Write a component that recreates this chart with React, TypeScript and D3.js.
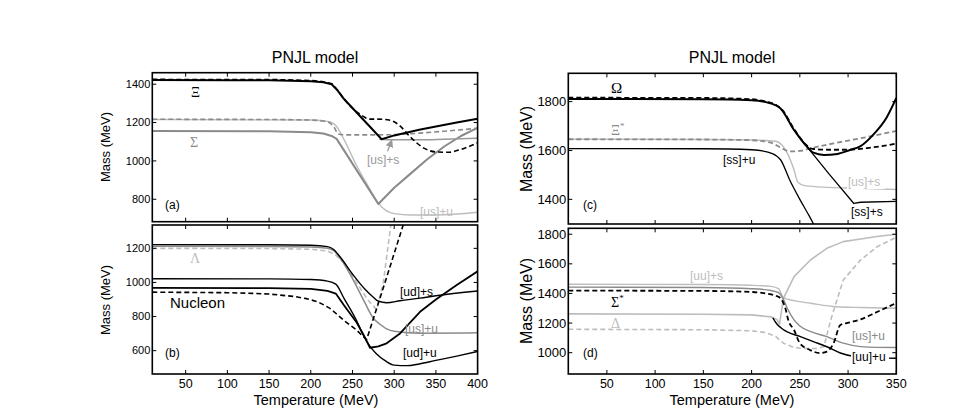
import React from "react";
import * as d3 from "d3";

// temperature (MeV), mass (MeV) pairs
// panel (a)
const xiSolid = [[10,1422],[100,1421],[150,1420],[200,1416],[215,1410],[225,1400],[232,1368],[239,1327],[260,1229],[285,1113],[300,1133],[330,1163],[350,1180],[375,1200],[400,1220]];
const xiDash = [[10,1425],[150,1424],[200,1419],[215,1412],[225,1402],[232,1370],[240,1322],[250,1275],[262,1235],[270,1218],[280,1218],[295,1212],[305,1190],[320,1122],[335,1068],[350,1047],[365,1045],[380,1060],[400,1095]];
const sigmaSolid = [[10,1156],[150,1155],[200,1150],[215,1143],[225,1130],[231,1115],[255,952],[281,775],[300,860],[320,935],[340,1010],[360,1075],[380,1130],[400,1172]];
const sigmaDash = [[10,1217],[150,1216],[200,1213],[215,1208],[222,1200],[228,1175],[233,1140],[240,1136],[280,1136],[300,1137],[331,1145],[360,1155],[400,1170]];
const usUa = [[10,1216],[200,1213],[222,1205],[230,1185],[240,1110],[255,975],[270,860],[281,780],[290,742],[300,725],[320,718],[350,718],[400,732]];
const usSa = [[282,1113],[300,1110],[330,1110],[360,1113],[400,1118]];

// panel (b)
const udS = [[10,1222],[150,1221],[200,1218],[220,1210],[227,1195],[235,1151],[251,1043],[265,960],[275,913],[281,890],[291,881],[307,893],[331,908],[350,922],[400,950]];
const usUb = [[10,1212],[150,1211],[200,1208],[220,1200],[228,1185],[237,1130],[251,1014],[265,880],[275,790],[283,755],[291,728],[300,714],[331,702],[400,705]];
const lambdaDash = [[10,1200],[150,1199],[200,1195],[220,1185],[230,1160],[240,1115],[255,1000],[268,900],[279,840],[287,1000],[296,1340]];
const udU = [[10,1022],[150,1021],[200,1017],[220,1008],[230,990],[240,905],[255,775],[263,690],[271,625],[278,585],[290,538],[300,515],[315,512],[330,522],[350,543],[375,568],[400,595]];
const nucleonSolid = [[10,968],[150,967],[200,962],[220,950],[230,935],[240,865],[255,765],[263,695],[271,617],[281,625],[291,643],[307,701],[331,828],[350,900],[375,985],[400,1065]];
const nucleonDash = [[10,943],[100,940],[130,936],[150,932],[180,918],[195,905],[208,887],[215,870],[223,848],[231,815],[239,780],[247,750],[255,721],[261,690],[267,665],[289,1000],[311,1340]];

// panel (c)
const omegaSolid = [[10,1811],[150,1810],[200,1806],[215,1798],[225,1785],[230,1772],[244,1684],[258,1613],[264,1591],[275,1582],[289,1586],[302,1602],[313,1618],[325,1660],[340,1735],[350,1815]];
const omegaDash = [[10,1816],[150,1815],[200,1810],[215,1800],[225,1787],[232,1765],[244,1688],[256,1625],[264,1606],[280,1603],[300,1603],[320,1610],[350,1628]];
const xiStarDash = [[10,1646],[150,1645],[200,1642],[220,1632],[230,1612],[240,1596],[250,1598],[261,1609],[285,1629],[313,1650],[350,1680]];
const usSc = [[10,1646],[150,1645],[200,1643],[225,1638],[232,1620],[237,1589],[244,1520],[248,1470],[255,1456],[280,1449],[313,1445],[350,1440]];
const ssU = [[10,1608],[150,1607],[200,1603],[215,1595],[225,1580],[230,1562],[240,1475],[250,1400],[260,1330],[268,1270]];
const ssS = [[244,1684],[258,1613],[280,1505],[306,1383],[313,1388],[350,1392]];

// panel (d)
const uuS = [[10,1462],[150,1460],[200,1455],[220,1448],[228,1432],[233,1372],[245,1350],[261,1334],[288,1310],[313,1305],[350,1300]];
const usUd = [[10,1443],[150,1440],[200,1432],[220,1420],[228,1405],[233,1360],[237,1300],[244,1221],[250,1180],[262,1140],[278,1108],[295,1064],[313,1041],[330,1036],[350,1035]];
const sigmaStarDash = [[10,1419],[150,1417],[200,1410],[215,1400],[225,1385],[230,1368],[235,1300],[238,1221],[244,1153],[250,1064],[260,1020],[271,997],[278,1007],[285,1064],[292,1187],[302,1205],[313,1225],[330,1275],[350,1335]];
const deltaSolid = [[10,1262],[150,1260],[200,1255],[220,1242],[226,1225],[229,1195],[233,1367],[244,1514],[261,1626],[278,1705],[295,1750],[313,1768],[330,1785],[350,1800]];
const uuU = [[222,1235],[226,1195],[232,1160],[237,1140],[250,1110],[264,1075],[278,1040],[292,998],[306,975],[320,968],[350,962]];
const deltaDash = [[10,1158],[150,1155],[200,1148],[215,1135],[225,1110],[233,1064],[244,1035],[254,1028],[268,1028],[275,1041],[282,1221],[295,1491],[313,1626],[330,1715],[350,1780]];

const xTicksLeft = [50, 100, 150, 200, 250, 300, 350, 400];
const xTicksRight = [50, 100, 150, 200, 250, 300, 350];
const yTicksA = [800, 1000, 1200, 1400];
const yTicksB = [600, 800, 1000, 1200];
const yTicksC = [1400, 1600, 1800];
const yTicksD = [1000, 1200, 1400, 1600, 1800];

const BLACK = "#000";
const GRAY = "#8a8a8a";
const LIGHT = "#bdbdbd";
const DASH = "5,3";

type Series = { data: number[][]; color: string; w: number; dash?: string; linear?: boolean };
type Label = { text: string; x: number; y: number; color?: string; size?: number; serif?: boolean; sup?: string; bg?: boolean };

type Panel = {
  id: string; x0: number; x1: number; y0: number; y1: number;
  xDomain: [number, number]; yDomain: [number, number];
  xTicks: number[]; yTicks: number[]; tickFont: number;
  series: Series[]; labels: Label[]; xLabels: boolean;
};

const panels: Panel[] = [
  {
    id: "a", x0: 152.3, x1: 477.6, y0: 72.7, y1: 221.7, xDomain: [10, 400], yDomain: [683, 1460],
    xTicks: xTicksLeft, yTicks: yTicksA, tickFont: 11, xLabels: false,
    series: [
      { data: usUa, color: LIGHT, w: 1.4 },
      { data: sigmaDash, color: GRAY, w: 1.6, dash: DASH },
      { data: sigmaSolid, color: GRAY, w: 2, linear: true },
      { data: usSa, color: "#999", w: 1.4 },
      { data: xiDash, color: BLACK, w: 1.6, dash: DASH },
      { data: xiSolid, color: BLACK, w: 2, linear: true },
    ],
    labels: [
      { text: "Ξ", x: 191, y: 97, serif: true, size: 14 },
      { text: "Σ", x: 190, y: 147, serif: true, size: 14, color: GRAY },
      { text: "(a)", x: 165, y: 209, size: 12 },
      { text: "[us]+s", x: 367, y: 164, size: 12, color: "#999" },
      { text: "[us]+u", x: 420, y: 216, size: 12, color: LIGHT },
    ],
  },
  {
    id: "b", x0: 152.3, x1: 477.6, y0: 225, y1: 374, xDomain: [10, 400], yDomain: [463, 1337],
    xTicks: xTicksLeft, yTicks: yTicksB, tickFont: 11, xLabels: true,
    series: [
      { data: lambdaDash, color: LIGHT, w: 1.6, dash: DASH, linear: true },
      { data: usUb, color: GRAY, w: 1.5 },
      { data: udS, color: BLACK, w: 1.4 },
      { data: udU, color: BLACK, w: 1.4 },
      { data: nucleonSolid, color: BLACK, w: 1.8, linear: true },
      { data: nucleonDash, color: BLACK, w: 1.6, dash: DASH, linear: true },
    ],
    labels: [
      { text: "Λ", x: 190, y: 263, serif: true, size: 14, color: LIGHT },
      { text: "Nucleon", x: 170, y: 308, size: 15 },
      { text: "(b)", x: 165, y: 357, size: 12 },
      { text: "[ud]+s", x: 400, y: 296, size: 12 },
      { text: "[us]+u", x: 405, y: 333, size: 12, color: GRAY },
      { text: "[ud]+u", x: 403, y: 357, size: 12 },
    ],
  },
  {
    id: "c", x0: 568.3, x1: 896.3, y0: 73.3, y1: 224, xDomain: [10, 350], yDomain: [1299, 1916],
    xTicks: xTicksRight, yTicks: yTicksC, tickFont: 13, xLabels: false,
    series: [
      { data: usSc, color: LIGHT, w: 1.4 },
      { data: xiStarDash, color: GRAY, w: 1.8, dash: DASH },
      { data: ssU, color: BLACK, w: 1.3 },
      { data: ssS, color: BLACK, w: 1.3, linear: true },
      { data: omegaDash, color: BLACK, w: 1.8, dash: DASH },
      { data: omegaSolid, color: BLACK, w: 2 },
    ],
    labels: [
      { text: "Ω", x: 611, y: 93, serif: true, size: 15 },
      { text: "Ξ", x: 611, y: 135, serif: true, size: 14, color: GRAY, sup: "*" },
      { text: "[ss]+u", x: 723, y: 164, size: 12 },
      { text: "(c)", x: 583, y: 209, size: 12 },
      { text: "[us]+s", x: 848, y: 186, size: 12, color: LIGHT, bg: true },
      { text: "[ss]+s", x: 851, y: 216, size: 12, bg: true },
    ],
  },
  {
    id: "d", x0: 568.3, x1: 896.3, y0: 228.3, y1: 374, xDomain: [10, 350], yDomain: [856, 1840],
    xTicks: xTicksRight, yTicks: yTicksD, tickFont: 13, xLabels: true,
    series: [
      { data: deltaDash, color: LIGHT, w: 1.6, dash: DASH, linear: true },
      { data: uuS, color: LIGHT, w: 1.4 },
      { data: deltaSolid, color: LIGHT, w: 1.6, linear: true },
      { data: usUd, color: GRAY, w: 1.4 },
      { data: uuU, color: BLACK, w: 1.4 },
      { data: sigmaStarDash, color: BLACK, w: 1.8, dash: DASH },
    ],
    labels: [
      { text: "[uu]+s", x: 690, y: 280, size: 12, color: LIGHT },
      { text: "Σ", x: 611, y: 307, serif: true, size: 14, sup: "*" },
      { text: "Δ", x: 611, y: 328, serif: true, size: 14, color: LIGHT },
      { text: "(d)", x: 583, y: 357, size: 12 },
      { text: "[us]+u", x: 852, y: 340, size: 12, color: GRAY, bg: true },
      { text: "[uu]+u", x: 852, y: 361, size: 12, bg: true },
    ],
  },
];

const SANS = "'Liberation Sans', Arial, Helvetica, sans-serif";
const SERIF = "'Liberation Serif', 'DejaVu Serif', serif";

function PanelView({ p }: { p: Panel }) {
  const x = d3.scaleLinear().domain(p.xDomain).range([p.x0, p.x1]);
  const y = d3.scaleLinear().domain(p.yDomain).range([p.y1, p.y0]);
  const tl = 4;
  return (
    <g>
      <defs>
        <clipPath id={"clip-" + p.id}>
          <rect x={p.x0} y={p.y0} width={p.x1 - p.x0} height={p.y1 - p.y0} />
        </clipPath>
      </defs>
      <g clipPath={`url(#clip-${p.id})`}>
        {p.series.map((s, i) => {
          const line = d3.line<number[]>()
            .x(d => x(d[0]))
            .y(d => y(d[1]))
            .curve(s.linear ? d3.curveLinear : d3.curveMonotoneX);
          return (
            <path key={i} d={line(s.data) || ""} fill="none" stroke={s.color}
              strokeWidth={s.w} strokeDasharray={s.dash} strokeLinejoin="round" />
          );
        })}
      </g>
      {p.xTicks.map(t => (
        <g key={"x" + t}>
          <line x1={x(t)} x2={x(t)} y1={p.y1} y2={p.y1 - tl} stroke="#000" strokeWidth={1} />
          <line x1={x(t)} x2={x(t)} y1={p.y0} y2={p.y0 + tl} stroke="#000" strokeWidth={1} />
          {p.xLabels && (
            <text x={x(t)} y={p.y1 + 14} textAnchor="middle" fontSize={12.5} fontFamily={SANS}>{t}</text>
          )}
        </g>
      ))}
      {p.yTicks.map(t => (
        <g key={"y" + t}>
          <line x1={p.x0} x2={p.x0 + tl} y1={y(t)} y2={y(t)} stroke="#000" strokeWidth={1} />
          <line x1={p.x1} x2={p.x1 - tl} y1={y(t)} y2={y(t)} stroke="#000" strokeWidth={1} />
          <text x={p.x0 - 2} y={y(t)} dy="0.35em" textAnchor="end" fontSize={p.tickFont} fontFamily={SANS}>{t}</text>
        </g>
      ))}
      {p.labels.map((l, i) => (
        <g key={i}>
          {l.bg && <rect x={l.x - 1} y={l.y - 10} width={38} height={13} fill="#fff" />}
          <text x={l.x} y={l.y} fill={l.color || "#000"} fontSize={l.size || 12}
            fontFamily={l.serif ? SERIF : SANS}>
            {l.text}
            {l.sup && <tspan dy={-6} fontSize={9}>{l.sup}</tspan>}
          </text>
        </g>
      ))}
      <rect x={p.x0} y={p.y0} width={p.x1 - p.x0} height={p.y1 - p.y0} fill="none" stroke="#000" strokeWidth={1.6} />
    </g>
  );
}

export default function App() {
  const pa = panels[0];
  const ax = d3.scaleLinear().domain(pa.xDomain).range([pa.x0, pa.x1]);
  const ay = d3.scaleLinear().domain(pa.yDomain).range([pa.y1, pa.y0]);
  // arrow from "[us]+s" label to its curve
  const arrowFrom = [ax(292), ay(1050)];
  const arrowTo = [ax(297), ay(1106)];
  return (
    <svg width={956} height={415} style={{ position: "absolute", left: 0, top: 0, background: "#fff" }}
      fontFamily={SANS}>
      <defs>
        <marker id="arrowhead" markerWidth="6" markerHeight="6" refX="5" refY="3" orient="auto">
          <path d="M0,0 L6,3 L0,6 z" fill="#999" />
        </marker>
      </defs>
      {panels.map(p => <PanelView key={p.id} p={p} />)}
      <line x1={arrowFrom[0]} y1={arrowFrom[1]} x2={arrowTo[0]} y2={arrowTo[1]} stroke="#999"
        strokeWidth={1.3} markerEnd="url(#arrowhead)" />
      <text x={315} y={63} textAnchor="middle" fontSize={16}>PNJL model</text>
      <text x={732} y={63} textAnchor="middle" fontSize={16}>PNJL model</text>
      <text x={316} y={405} textAnchor="middle" fontSize={14.5}>Temperature (MeV)</text>
      <text x={732} y={405} textAnchor="middle" fontSize={14.5}>Temperature (MeV)</text>
      <text transform="translate(110,147) rotate(-90)" textAnchor="middle" fontSize={13}>Mass (MeV)</text>
      <text transform="translate(110,300) rotate(-90)" textAnchor="middle" fontSize={13}>Mass (MeV)</text>
      <text transform="translate(532,149) rotate(-90)" textAnchor="middle" fontSize={16}>Mass (MeV)</text>
      <text transform="translate(532,301) rotate(-90)" textAnchor="middle" fontSize={16}>Mass (MeV)</text>
    </svg>
  );
}
